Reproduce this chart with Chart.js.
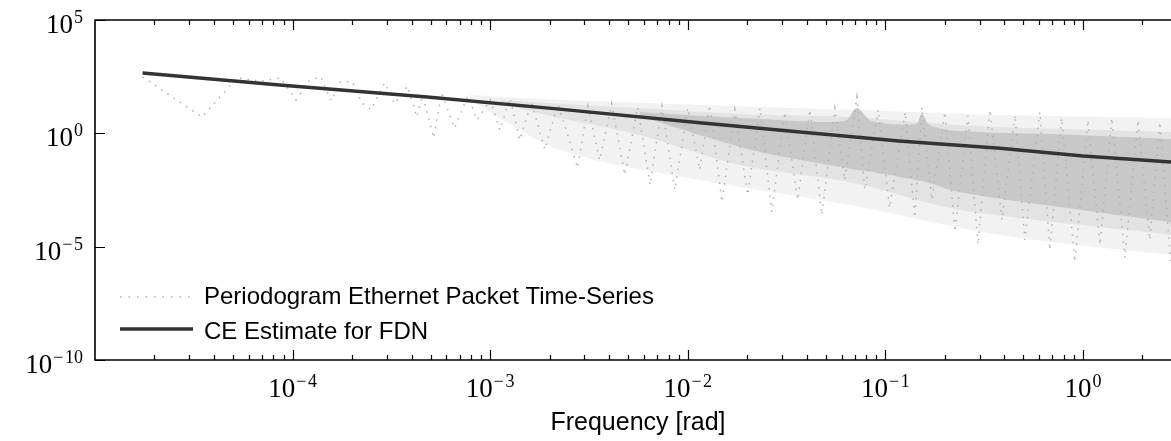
<!DOCTYPE html>
<html>
<head>
<meta charset="utf-8">
<script src="https://cdn.jsdelivr.net/npm/chart.js@4"></script>
<style>
  body { margin: 0; background: #fff; }
  #wrap { width: 1171px; height: 441px; }
</style>
</head>
<body>
<div id="wrap"><canvas id="periodogramChart"></canvas></div>
<script>
// periodogram of the ethernet packet series (sparse sample)
const periodFreq = [
  1.74e-5, 3.48e-5, 5.22e-5, 6.96e-5, 8.7e-5, 1.04e-4, 1.22e-4, 1.39e-4, 1.57e-4, 1.74e-4,
  2.0e-4, 2.24e-4, 2.5e-4, 2.92e-4, 3.28e-4, 3.82e-4, 4.25e-4, 4.55e-4, 5.18e-4, 5.68e-4,
  6.6e-4, 7.7e-4, 8.6e-4, 1.0e-3, 1.12e-3, 1.26e-3, 1.41e-3, 1.62e-3, 1.89e-3, 2.2e-3,
  2.47e-3, 2.77e-3, 3.12e-3, 3.58e-3, 4.12e-3, 4.8e-3, 5.58e-3, 6.45e-3, 7.4e-3, 8.6e-3,
  1.0e-2, 1.15e-2, 1.29e-2, 1.49e-2, 1.73e-2, 2.01e-2, 2.32e-2, 2.66e-2, 3.1e-2, 3.6e-2,
  4.15e-2, 4.77e-2, 5.55e-2, 6.23e-2, 7.18e-2, 7.87e-2, 9.2e-2, 0.105, 0.126, 0.141,
  0.153, 0.172, 0.20, 0.225, 0.262, 0.294, 0.338, 0.389, 0.453, 0.508,
  0.605, 0.68, 0.78, 0.91, 1.06, 1.22, 1.40, 1.63, 1.90, 2.18,
  2.45, 2.79
];
const periodPower = [
  310, 5.2, 280, 200, 280, 30, 220, 310, 27, 190,
  190, 22, 11, 170, 20, 120, 5.2, 49, 0.62, 60,
  1.7, 45, 3.9, 30, 1.4, 36, 0.51, 24, 0.19, 20,
  0.85, 0.030, 16, 0.066, 20, 0.0145, 14, 5.2e-3, 16, 3.2e-3,
  13, 0.024, 18, 9.3e-4, 11, 1.9e-3, 13, 3.4e-4, 8.7, 1.15e-3,
  11, 2.5e-4, 13, 8.7e-3, 40, 3.2e-3, 11, 5.1e-4, 8.7, 1.9e-4,
  14, 1.15e-3, 8.7, 4.5e-5, 5.9, 1.2e-5, 11, 1.5e-4, 6.5, 2.0e-5,
  8.7, 7.1e-6, 4.8, 2.1e-6, 3.9, 1.2e-5, 4.8, 3.2e-6, 3.9, 2.0e-5,
  3.2, 1.5e-6
];

// dense core of the periodogram cloud (upper / lower edge)
const coreFreq = [5.7e-3, 1.15e-2, 2.32e-2, 6.23e-2, 7.18e-2, 8.5e-2, 0.143, 0.153, 0.168, 0.238, 0.96, 2.79];
const coreHigh = [8.7, 5.9, 4.3, 3.5, 13, 3.5, 2.6, 7.1, 2.3, 1.26, 0.85, 0.56];
const coreLow = [5.9, 0.85, 0.15, 0.030, 0.024, 0.020, 8.7e-3, 7.9e-3, 6.3e-3, 2.5e-3, 4.2e-4, 1.2e-4];

// medium density part of the cloud
const midFreq = [1.12e-3, 2.24e-3, 5.7e-3, 1.83e-2, 6.6e-2, 0.238, 2.79];
const midHigh = [30, 20, 13, 7.1, 5.2, 2.3, 1.15];
const midLow = [20, 4.8, 0.85, 0.040, 7.1e-3, 4.2e-4, 3.3e-5];

// scattered outer part of the cloud
const outerFreq = [7.9e-4, 2.24e-3, 1.15e-2, 6.6e-2, 0.38, 2.79];
const outerHigh = [49, 30, 18, 11, 6.5, 4.8];
const outerLow = [30, 0.19, 8.7e-3, 6.9e-4, 3.3e-5, 4.3e-6];

// CE estimate for FDN
const ceFreq = [1.74e-5, 8.6e-5, 4.8e-4, 2.24e-3, 1.15e-2, 3.7e-2, 0.117, 0.38, 1.0, 2.79];
const cePower = [460, 135, 40, 11.7, 2.9, 1.15, 0.46, 0.22, 0.10, 0.055];

const xTickExps = [-4, -3, -2, -1, 0];
const yTickExps = [5, 0, -5, -10];

const pairs = (xs, ys) => xs.map((v, i) => ({ x: v, y: ys[i] }));

function drawPower(ctx, exp, x, base, align) {
  const big = '27px "Liberation Serif"';
  const small = '18px "Liberation Serif"';
  const sup = String(exp).replace('-', '\u2212\u200a');
  ctx.font = big;
  const w1 = ctx.measureText('10').width;
  ctx.font = small;
  const w2 = ctx.measureText(sup).width + 1;
  const left = align === 'right' ? x - w1 - w2 : x - (w1 + w2) / 2;
  ctx.textAlign = 'left';
  ctx.textBaseline = 'alphabetic';
  ctx.font = big;
  ctx.fillText('10', left, base);
  ctx.font = small;
  ctx.fillText(sup, left + w1 + 1, base - 10);
}

const mplAxes = {
  id: 'mplAxes',
  afterDraw(chart) {
    const { ctx, chartArea: a } = chart;
    const x = chart.scales.x, y = chart.scales.y;
    ctx.save();
    ctx.strokeStyle = '#000';
    ctx.fillStyle = '#000';

    // inward ticks, top and bottom
    ctx.lineWidth = 1.2;
    ctx.beginPath();
    for (let d = -5; d <= 0; d++) {
      for (let m = 1; m <= 9; m++) {
        const v = m * Math.pow(10, d);
        if (v <= x.min || v > x.max) continue;
        const px = Math.round(x.getPixelForValue(v)) + 0.5;
        const len = m === 1 ? 10 : 5;
        ctx.moveTo(px, a.bottom); ctx.lineTo(px, a.bottom - len);
        ctx.moveTo(px, a.top); ctx.lineTo(px, a.top + len);
      }
    }
    yTickExps.forEach(e => {
      const py = Math.round(y.getPixelForValue(Math.pow(10, e))) + 0.5;
      ctx.moveTo(a.left, py); ctx.lineTo(a.left + 10, py);
    });
    ctx.stroke();

    // spines (right one is cut off)
    ctx.lineWidth = 1.6;
    ctx.beginPath();
    ctx.moveTo(a.right, a.top);
    ctx.lineTo(a.left, a.top);
    ctx.lineTo(a.left, a.bottom);
    ctx.lineTo(a.right, a.bottom);
    ctx.stroke();

    // tick labels
    xTickExps.forEach(e => drawPower(ctx, e, x.getPixelForValue(Math.pow(10, e)), a.bottom + 37, 'center'));
    yTickExps.forEach(e => drawPower(ctx, e, a.left - 12, y.getPixelForValue(Math.pow(10, e)) + 13, 'right'));

    // axis title
    ctx.font = '25px "Liberation Sans"';
    ctx.textAlign = 'center';
    ctx.fillText('Frequency [rad]', 638, 430);

    // legend
    ctx.textAlign = 'left';
    ctx.font = '24px "Liberation Sans"';
    ctx.strokeStyle = '#b0b0b0';
    ctx.lineWidth = 1.5;
    ctx.setLineDash([1.5, 7]);
    ctx.beginPath(); ctx.moveTo(120, 297); ctx.lineTo(190, 297); ctx.stroke();
    ctx.setLineDash([]);
    ctx.strokeStyle = '#333333';
    ctx.lineWidth = 3.5;
    ctx.beginPath(); ctx.moveTo(120, 329); ctx.lineTo(193, 329); ctx.stroke();
    ctx.fillStyle = '#000';
    ctx.fillText('Periodogram Ethernet Packet Time-Series', 204, 304);
    ctx.fillText('CE Estimate for FDN', 204, 339);
    ctx.restore();
  }
};

const band = { pointRadius: 0, borderWidth: 0, tension: 0.3 };

new Chart(document.getElementById('periodogramChart'), {
  type: 'line',
  data: {
    datasets: [
      { ...band, data: pairs(outerFreq, outerHigh), fill: false, order: 5 },
      { ...band, data: pairs(outerFreq, outerLow), fill: '-1', backgroundColor: '#f2f2f2', order: 5 },
      { ...band, data: pairs(midFreq, midHigh), fill: false, order: 4 },
      { ...band, data: pairs(midFreq, midLow), fill: '-1', backgroundColor: '#e3e3e3', order: 4 },
      { ...band, data: pairs(coreFreq, coreHigh), fill: false, order: 3 },
      { ...band, data: pairs(coreFreq, coreLow), fill: '-1', backgroundColor: '#c8c8c8', order: 3 },
      {
        label: 'Periodogram Ethernet Packet Time-Series',
        data: pairs(periodFreq, periodPower),
        borderColor: '#b0b0b0',
        borderWidth: 1.5,
        borderDash: [1.5, 6],
        pointRadius: 0,
        fill: false,
        order: 2
      },
      {
        label: 'CE Estimate for FDN',
        data: pairs(ceFreq, cePower),
        borderColor: '#333333',
        borderWidth: 3.5,
        pointRadius: 0,
        fill: false,
        order: 1
      }
    ]
  },
  options: {
    responsive: true,
    maintainAspectRatio: false,
    animation: false,
    events: [],
    layout: { padding: { left: 95, top: 20, right: 0, bottom: 81 } },
    plugins: { legend: { display: false }, tooltip: { enabled: false } },
    scales: {
      x: { type: 'logarithmic', min: 1e-5, max: 2.79, display: false },
      y: { type: 'logarithmic', min: 1e-10, max: 1e5, display: false }
    }
  },
  plugins: [mplAxes]
});
</script>
</body>
</html>
